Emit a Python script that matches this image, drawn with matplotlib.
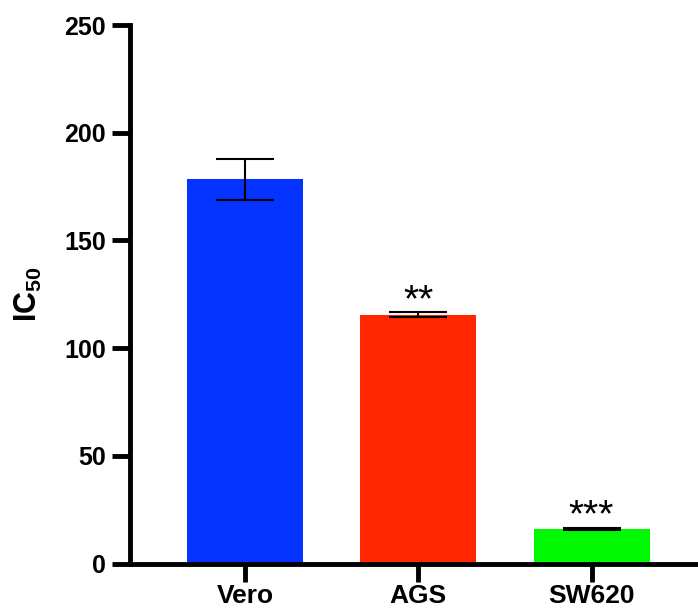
import numpy as np
import matplotlib.pyplot as plt

plt.rcParams['font.family'] = ['Liberation Sans', 'DejaVu Sans']
plt.rcParams['mathtext.fontset'] = 'custom'
plt.rcParams['mathtext.rm'] = 'Liberation Sans:bold'
plt.rcParams['mathtext.bf'] = 'Liberation Sans:bold'

# data
cells = ['Vero', 'AGS', 'SW620']
ic50 = [178.4, 115.6, 16.2]
ic50_err = [9.5, 1.0, 0.5]
stars = ['', '**', '***']
bar_colors = ['#0433FF', '#FF2600', '#00F900']
y_ticks = [0, 50, 100, 150, 200, 250]

fig = plt.figure(figsize=(6.98, 6.11), dpi=100)
ax = fig.add_axes([0.186, 0.0777, 0.814, 0.8813])

x = np.arange(len(cells))
ax.bar(x, ic50, width=0.67, color=bar_colors, zorder=1)
ax.errorbar(x, ic50, yerr=ic50_err, fmt='none', ecolor='black',
            elinewidth=1.5, capsize=21, capthick=1.5, zorder=2)

for xi, v, e, s in zip(x, ic50, ic50_err, stars):
    if s:
        ax.text(xi, v + e + 0.5, s, ha='center', va='baseline',
                fontsize=28, color='black')

ax.set_xlim(-0.664, 2.614)
ax.set_ylim(0, 250)
ax.set_yticks(y_ticks)
ax.set_xticks(x)
ax.set_xticklabels(cells)

for side in ['top', 'right']:
    ax.spines[side].set_visible(False)
for side in ['left', 'bottom']:
    ax.spines[side].set_linewidth(3.5)
    ax.spines[side].set_capstyle('projecting')

ax.tick_params(axis='both', direction='out', length=13, width=3.5, pad=4)
ax.tick_params(axis='y', labelsize=18)
ax.tick_params(axis='x', labelsize=19, pad=1.5)
for lab in ax.get_xticklabels() + ax.get_yticklabels():
    lab.set_fontweight('bold')

ax.set_ylabel(r'$\mathbf{IC_{50}}$', fontsize=22, labelpad=15)

fig.savefig('out.png', dpi=100)
